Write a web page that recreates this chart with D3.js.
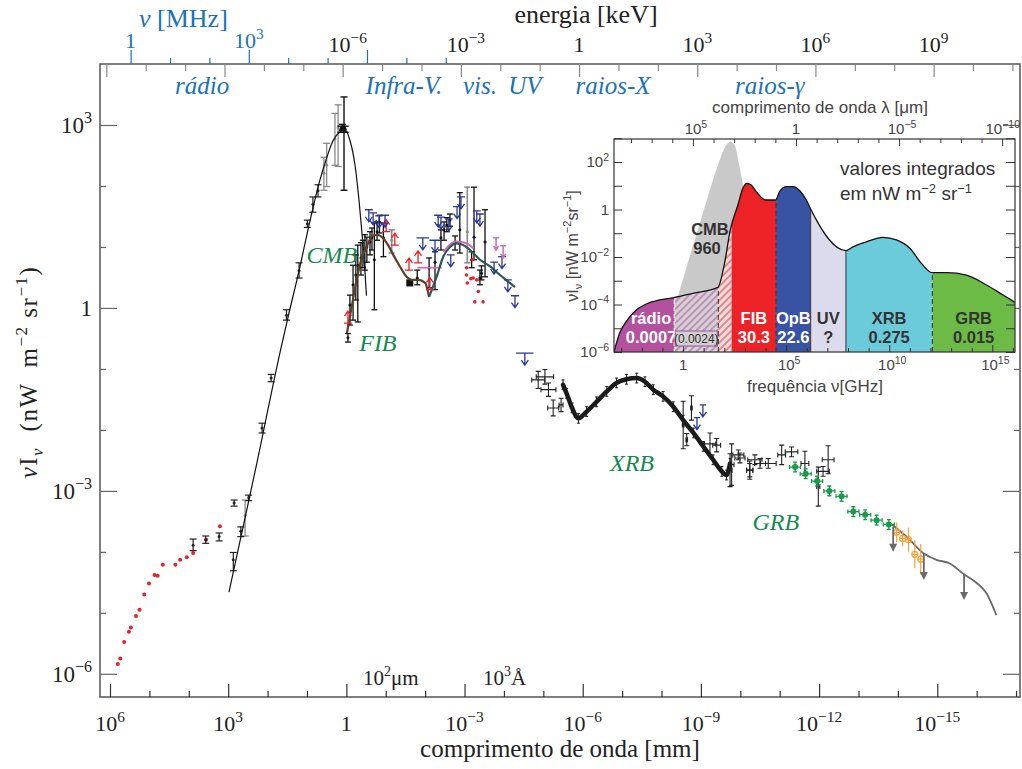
<!DOCTYPE html>
<html>
<head>
<meta charset="utf-8">
<script src="https://cdn.jsdelivr.net/npm/d3@7/dist/d3.min.js"></script>
<style>
  html, body { margin: 0; padding: 0; background: #fff; }
  svg text { white-space: pre; }
</style>
</head>
<body>
<svg id="chart" width="1022" height="769"></svg>
<script>
// ===== Data =====
// Main panel: pairs are [log10 wavelength (mm), log10 νIν (nW m^-2 sr^-1)]

// radio sky background measurements (red dots)
const radioDots = [[5.80,-5.84],[5.74,-5.75],[5.64,-5.48],[5.52,-5.31],[5.47,-5.24],[5.34,-5.05],
  [5.25,-4.95],[5.13,-4.70],[5.01,-4.52],[4.87,-4.38],[4.79,-4.39],[4.66,-4.21],[4.34,-4.21],
  [4.22,-4.13],[4.05,-4.09],[3.89,-4.02],[3.56,-3.80],[3.21,-3.58]];

// radio / microwave measurements with error bars: [logλ, logI, logLow, logHigh]
const radioBars = [[3.89,-3.89,-3.98,-3.79],[3.57,-3.80,-3.86,-3.74],[3.23,-3.75,-3.82,-3.69],
  [2.85,-3.20,-3.25,-3.15],[2.87,-4.13,-4.31,-4.01],[2.68,-3.66,-3.75,-3.59],[2.48,-3.11,-3.16,-3.07],
  [2.14,-1.97,-2.05,-1.89],[1.91,-1.15,-1.21,-1.09],[1.52,-0.12,-0.20,-0.03],[1.20,0.61,0.49,0.74],
  [0.99,1.38,1.32,1.44],[0.85,1.70,1.57,1.82],[0.72,1.92,1.82,2.02]];
const radioBarsGrey = [[2.57,-3.40,-3.74,-3.15],[0.57,2.21,1.93,2.47],[0.50,2.34,1.99,2.70],
  [0.29,2.77,2.34,3.19],[0.21,2.95,2.32,3.33]];
const cmbPeakBars = [[0.06,2.95,1.93,3.46],[0.14,2.93,2.88,2.98],[0.10,2.96,2.91,3.01],[0.03,2.93,2.88,2.98]];

// CMB spectrum
const cmbCurve = [[2.98,-4.66],[2.32,-2.69],[1.66,-0.66],[1.48,-0.15],[1.18,0.67],[0.975,1.28],
  [0.67,2.10],[0.49,2.48],[0.34,2.74],[0.16,2.89],[0.036,2.92],[-0.09,2.75],[-0.22,2.34],
  [-0.32,1.77],[-0.40,1.20],[-0.47,0.62],[-0.51,0.20]];

// cosmic infrared background model
const fibCurve = [[-0.015,-0.41],[-0.135,0.02],[-0.26,0.46],[-0.39,0.82],[-0.515,1.00],[-0.64,1.17],
  [-0.77,1.20],[-0.94,1.14],[-1.06,1.03],[-1.19,0.87],[-1.36,0.68],[-1.53,0.51],[-1.66,0.46],
  [-1.83,0.46],[-2.00,0.41],[-2.10,0.18]];
// optical background model
const optCurve = [[-2.10,0.18],[-2.29,0.51],[-2.46,0.84],[-2.63,1.00],[-2.80,1.06],[-2.97,1.03],
  [-3.14,0.95],[-3.39,0.79],[-3.65,0.68],[-3.90,0.54],[-4.15,0.41],[-4.28,0.34]];
const optCurveAlt = [[-2.46,0.92],[-2.63,1.04],[-2.80,1.09],[-3.05,1.06],[-3.22,0.98]];
const optStep = [[-1.80,0.66],[-2.42,0.66]];

// infrared / optical measurements with error bars
const irBars = [[-0.04,-0.49,-0.56,-0.42],[-0.09,0.05,-0.28,0.21],[-0.17,0.38,-0.20,0.70],
  [-0.24,0.54,0.13,0.87],[-0.29,0.70,-0.23,1.03],[-0.37,0.82,0.54,1.07],[-0.42,0.87,0.66,1.11],
  [-0.47,0.95,0.62,1.20],[-0.52,1.00,0.75,1.16],[-0.60,1.08,0.87,1.25],[-0.65,1.15,0.95,1.31],
  [-0.71,0.79,-0.03,1.39],[-0.78,1.25,1.11,1.41],[-0.84,1.41,1.23,1.52],[-0.94,1.15,0.84,1.39],
  [-1.80,0.49,0.38,0.62],[-2.10,0.66,0.33,0.82],[-2.25,0.75,0.30,0.92],[-2.40,1.15,0.95,1.28],
  [-2.48,1.28,1.11,1.41],[-2.55,1.36,1.25,1.48],[-2.63,1.44,1.34,1.54],[-2.76,1.07,0.95,1.18],
  [-2.88,1.28,0.90,1.89],[-3.24,1.16,0.79,1.98],[-3.52,1.08,0.51,1.61],[-3.18,0.79,0.66,0.92],
  [-3.43,0.57,0.46,0.69],[-3.39,0.49,0.38,0.62]];
const irBarsGrey = [[-1.15,1.11,0.90,1.28],[-3.07,1.25,0.74,1.98]];
const irSquares = [[-1.61,0.41]];

// lower limits (red, arrow up): [logλ, logI]
const lowerLimits = [[-0.04,-0.25],[-1.01,1.25],[-1.23,1.03],[-1.59,0.62],[-1.82,0.74],[-2.12,0.30]];
// upper limits (blue, arrow down): [logλ, logI, half-width in logλ]
const upperLimits = [[-0.57,1.61,0.10],[-0.68,1.56,0.10],[-0.83,1.51,0.10],[-0.98,1.52,0.10],
  [-1.94,1.15,0.16],[-2.25,1.11,0.14],[-2.33,1.52,0.10],[-2.40,1.49,0.10],[-2.60,1.46,0.10],
  [-2.81,1.66,0.10],[-2.91,1.82,0.10],[-3.31,1.59,0.10],[-3.39,1.54,0.10],[-2.65,0.87,0.10],
  [-3.75,0.75,0.10],[-3.95,0.84,0.10],[-4.10,0.46,0.10],[-4.28,0.20,0.10],[-4.53,-0.74,0.22],
  [-9.05,-1.59,0.08],[-8.90,-1.80,0.08]];
// upper limits (pink): [logλ, logTop, logBottom]
const pinkLimits = [[-3.80,1.15,0.95],[-3.98,1.02,0.82]];
// optical galaxy counts (red dots)
const optDots = [[-3.05,0.66],[-3.05,0.54],[-3.22,0.49],[-3.31,0.46],[-3.07,0.41],[-3.35,0.27],
  [-3.26,0.10],[-3.47,0.10],[-3.21,0.79],[-3.16,0.48]];

// X-ray background
const xrbBand = [[-5.50,-1.26],[-5.59,-1.40],[-5.73,-1.64],[-5.89,-1.81],[-6.10,-1.70],[-6.35,-1.54],
  [-6.61,-1.37],[-6.86,-1.23],[-7.11,-1.17],[-7.37,-1.15],[-7.58,-1.21],[-7.79,-1.34],[-8.04,-1.45],
  [-8.30,-1.62],[-8.55,-1.84],[-8.81,-2.05],[-9.06,-2.27],[-9.31,-2.49],[-9.53,-2.68],[-9.65,-2.74],
  [-9.74,-2.55]];
// error crosses: [logλ, logI, ±logλ, ±logI]
const xrbCrosses = [[-4.87,-1.18,0.165,0.14],[-5.04,-1.13,0.22,0.12],[-5.13,-1.34,0.19,0.11],
  [-5.25,-1.64,0.14,0.13],[-5.45,-1.59,0.05,0.11],[-8.55,-1.92,0.02,0.39],[-8.64,-2.16,0.02,0.10],
  [-8.76,-1.64,0.02,0.20],[-9.23,-2.23,0.14,0.18],[-9.40,-2.25,0.10,0.11],[-9.74,-2.66,0.05,0.27],
  [-9.95,-2.41,0.14,0.08],[-10.24,-2.66,0.08,0.11],[-10.37,-2.49,0.18,0.08]];
// gamma-ray background
const grbCrosses = [[-9.78,-2.57,0.06,0.34],[-9.99,-2.46,0.13,0.08],[-10.24,-2.66,0.08,0.15],
  [-10.50,-2.55,0.14,0.08],[-10.71,-2.55,0.20,0.08],[-11.05,-2.41,0.10,0.16],[-11.30,-2.36,0.16,0.08],
  [-11.64,-2.55,0.10,0.20],[-11.98,-2.93,0.04,0.32],[-12.23,-2.49,0.15,0.23],[-12.10,-2.68,0.16,0.08]];
const grbGreen = [[-11.39,-2.61],[-11.66,-2.72],[-11.95,-2.84],[-12.26,-3.00],[-12.57,-3.09],
  [-12.87,-3.34],[-13.17,-3.39],[-13.46,-3.48],[-13.77,-3.55]];
const grbOrange = [[-13.97,-3.68,0.16],[-14.12,-3.78,0.13],[-14.27,-3.80,0.20],[-14.43,-4.04,0.23],[-14.58,-4.12,0.25]];
const grbModel = [[-13.80,-3.53],[-14.22,-3.75],[-14.64,-4.02],[-14.98,-4.13],[-15.32,-4.19],
  [-15.66,-4.36],[-16.00,-4.51],[-16.25,-4.68],[-16.50,-5.04]];
// upper limits (grey): [logλ, logTop, logBottom]
const grbLimits = [[-13.88,-3.59,-4.00],[-14.66,-4.02,-4.46],[-15.68,-4.36,-4.79]];

// axis ticks (exponents)
const wlTickExp = d3.range(-17, 7);
const wlLabelExp = [6, 3, 0, -3, -6, -9, -12, -15];
const energyTickExp = d3.range(-12, 12);
const energyLabelExp = [-6, -3, 0, 3, 6, 9];
const mhzTickExp = d3.range(0, 9);
const mhzLabelExp = [0, 3];
const yTickExp = d3.range(-6, 4);
const yLabelExp = [3, 0, -3, -6];
const bands = ['rádio', 'Infra-V.', 'vis.', 'UV', 'raios-X', 'raios-γ'];
const bandAt = [3.66, -1.46, -3.39, -4.53, -6.77, -10.75];  // logλ of band name centres
const components = ['CMB', 'FIB', 'XRB', 'GRB'];
const componentAt = [[0.37, 0.74], [-0.80, -0.70], [-7.25, -2.67], [-10.90, -3.64]];

// Inset: pairs are [log10 ν (GHz), log10 νIν]
const insetEnvelope = [[-3.35,-6.0],[-3.08,-5.21],[-2.76,-4.72],[-2.27,-4.23],[-1.79,-3.98],[-1.14,-3.81],
  [-0.45,-3.71],[0.48,-3.53],[1.69,-3.28],[2.01,-2.27],[2.29,-0.86],[2.66,0.19],[2.90,0.89],[3.10,1.10],
  [3.31,1.03],[3.55,0.75],[4.00,0.40],[4.49,0.40],[4.68,0.75],[5.01,0.96],[5.33,0.96],[5.66,0.79],
  [5.98,0.40],[6.17,0.05],[7.89,-1.73],[8.24,-1.57],[8.89,-1.36],[9.70,-1.17],[10.35,-1.28],
  [11.00,-1.63],[11.56,-2.27],[12.08,-2.66],[12.78,-2.66],[13.75,-2.76],[14.72,-3.18],[15.52,-3.60],[16.10,-3.91]];
const insetCMB = [[-0.90,-6.0],[-0.56,-4.65],[-0.25,-3.67],[0.32,-1.99],[0.96,-0.16],[1.61,1.66],
  [2.01,2.58],[2.29,2.85],[2.50,2.72],[2.74,1.80],[2.99,0.61],[3.33,-1.28],[3.62,-3.39],[3.81,-6.0]];
const insetEdges = [-3.35, -0.43, 1.71, 2.36, 4.51, 6.19, 7.90, 12.09, 16.10];
const insetNames = ['rádio', '', '', 'FIB', 'OpB', 'UV', 'XRB', 'GRB'];
const insetValues = ['0.0007', '', '', '30.3', '22.6', '?', '0.275', '0.015'];
const insetHatchedValue = '(0.0024)';
const insetCMBValue = '960';

// ===== Styles =====
const serif = "'Liberation Serif','DejaVu Serif',serif";
const sans = "'Liberation Sans','Noto Sans',sans-serif";
const BLUE = '#1b72b8', GREEN = '#13894f';
const bandFill = ['#b3519f', 'url(#hatchP)', 'url(#hatchR)', '#ec2227', '#3953a4', '#dcdbed', '#6ccbdb', '#6bbb46'];
const bandText = ['#fff', '#333', '#333', '#fff', '#fff', '#333', '#333', '#333'];

// ===== Scales =====
const P = v => Math.pow(10, v);
const M = { l: 100, r: 1020, t: 64, b: 697 };
const x = d3.scaleLog().domain([P(6.254), P(-17.1)]).range([M.l, M.r]);
const y = d3.scaleLog().domain([P(-6.38), P(4)]).range([M.b, M.t]);
const X = v => x(P(v)), Y = v => y(P(v));
const HC_KEV_MM = 1.23984e-6, C_MM_MHZ = 2.99792e5;
const xE = d3.scaleLog().domain([HC_KEV_MM / P(6.254), HC_KEV_MM / P(-17.1)]).range([M.l, M.r]);
const xF = d3.scaleLog().domain([C_MM_MHZ / P(6.254), C_MM_MHZ / P(-17.1)]).range([M.l, M.r]);

const svg = d3.select('#chart');
const defs = svg.append('defs');

function powLabel(parent, px, py, e, o) {
  const t = parent.append('text').attr('x', px).attr('y', py)
    .attr('text-anchor', o.anchor || 'middle').attr('font-family', o.font)
    .attr('font-size', o.size).attr('fill', o.color || '#222');
  if (e === 0) { t.text('1'); return t; }
  t.append('tspan').text('10');
  t.append('tspan').attr('dy', -o.size * 0.42).attr('font-size', o.size * 0.7)
    .text(e < 0 ? '\u2212' + (-e) : String(e));
  return t;
}
function tickAxis(axisFn, scale, vals, size, color, transform, width) {
  const g = svg.append('g').attr('transform', transform)
    .call(axisFn(scale).tickValues(vals).tickSize(size).tickFormat(''));
  g.select('.domain').remove();
  g.selectAll('.tick line').attr('stroke', color).attr('stroke-width', width || 1.2);
  return g;
}

// ===== Main axes =====
svg.append('rect').attr('x', M.l).attr('y', M.t).attr('width', M.r - M.l).attr('height', M.b - M.t)
  .attr('fill', 'none').attr('stroke', '#555').attr('stroke-width', 1.5);

// wavelength (bottom)
tickAxis(d3.axisBottom, x, wlTickExp.filter(k => k % 3 !== 0).map(P), -6, '#333', `translate(0,${M.b})`);
tickAxis(d3.axisBottom, x, wlTickExp.filter(k => k % 3 === 0).map(P), -13, '#333', `translate(0,${M.b})`);
wlLabelExp.forEach(e => powLabel(svg, X(e), 731, e, { font: serif, size: 22 }));
svg.append('text').attr('x', 560).attr('y', 757).attr('text-anchor', 'middle')
  .attr('font-family', serif).attr('font-size', 25).attr('fill', '#222').text('comprimento de onda [mm]');
// marker labels for 100 μm and 1000 Å
const mk1 = svg.append('text').attr('x', 363).attr('y', 685).attr('font-family', serif).attr('font-size', 21).attr('fill', '#222');
mk1.append('tspan').text('10'); mk1.append('tspan').attr('dy', -9).attr('font-size', 14).text('2');
mk1.append('tspan').attr('dy', 9).text('μm');
const mk2 = svg.append('text').attr('x', 483).attr('y', 685).attr('font-family', serif).attr('font-size', 21).attr('fill', '#222');
mk2.append('tspan').text('10'); mk2.append('tspan').attr('dy', -9).attr('font-size', 14).text('3');
mk2.append('tspan').attr('dy', 9).text('Å');

// energy (top)
tickAxis(d3.axisTop, xE, energyTickExp.filter(k => k % 3 !== 0).map(P), -7, '#888', `translate(0,${M.t})`);
tickAxis(d3.axisTop, xE, energyTickExp.filter(k => k % 3 === 0).map(P), -13, '#888', `translate(0,${M.t})`);
energyLabelExp.forEach(e => powLabel(svg, xE(P(e)) + (e < 0 ? 5 : 0), 52, e, { font: serif, size: 22 }));
svg.append('text').attr('x', 586).attr('y', 23).attr('text-anchor', 'middle')
  .attr('font-family', serif).attr('font-size', 26).attr('fill', '#222').text('energia [keV]');

// frequency in MHz (top, blue)
tickAxis(d3.axisTop, xF, mhzTickExp.filter(k => k % 3 !== 0).map(P), 6, BLUE, `translate(0,${M.t})`);
tickAxis(d3.axisTop, xF, mhzTickExp.filter(k => k % 3 === 0).map(P), 14, BLUE, `translate(0,${M.t})`);
mhzLabelExp.forEach(e => powLabel(svg, xF(P(e)), 48, e, { font: serif, size: 22, color: BLUE }));
const nuT = svg.append('text').attr('x', 139).attr('y', 27).attr('font-family', serif).attr('font-size', 26).attr('fill', BLUE);
nuT.append('tspan').attr('font-style', 'italic').text('ν');
nuT.append('tspan').text(' [MHz]');

// band names
bands.forEach((b, i) => svg.append('text').attr('x', X(bandAt[i])).attr('y', 94).attr('text-anchor', 'middle')
  .attr('font-family', serif).attr('font-style', 'italic').attr('font-size', 25).attr('fill', BLUE).text(b));

// intensity (left / right)
tickAxis(d3.axisLeft, y, yTickExp.filter(k => k % 3 !== 0).map(P), -6, '#666', `translate(${M.l},0)`);
tickAxis(d3.axisLeft, y, yTickExp.filter(k => k % 3 === 0).map(P), -17, '#666', `translate(${M.l},0)`);
tickAxis(d3.axisRight, y, yTickExp.filter(k => k % 3 !== 0).map(P), -6, '#666', `translate(${M.r},0)`);
tickAxis(d3.axisRight, y, yTickExp.filter(k => k % 3 === 0).map(P), -17, '#666', `translate(${M.r},0)`);
yLabelExp.forEach(e => powLabel(svg, 92, Y(e) + 8, e, { font: serif, size: 23, anchor: 'end' }));
const yt = svg.append('text').attr('transform', 'translate(37,372) rotate(-90)').attr('text-anchor', 'middle')
  .attr('font-family', serif).attr('font-size', 25).attr('letter-spacing', 1.5).attr('fill', '#222');
yt.append('tspan').attr('font-style', 'italic').text('ν');
yt.append('tspan').text('I');
yt.append('tspan').attr('dy', 6).attr('font-size', 17).attr('font-style', 'italic').text('ν');
yt.append('tspan').attr('dy', -6).text('  (nW  m');
yt.append('tspan').attr('dy', -10).attr('font-size', 17).text('\u22122');
yt.append('tspan').attr('dy', 10).text(' sr');
yt.append('tspan').attr('dy', -10).attr('font-size', 17).text('\u22121');
yt.append('tspan').attr('dy', 10).text(')');

// ===== Main data layers =====
const plot = svg.append('g');
const line = d3.line().x(d => X(d[0])).y(d => Y(d[1]));
const smooth = d3.line().x(d => X(d[0])).y(d => Y(d[1])).curve(d3.curveMonotoneX);

function vbar(g, d, color, cap, w) {
  const px = X(d[0]);
  g.append('line').attr('x1', px).attr('x2', px).attr('y1', Y(d[2])).attr('y2', Y(d[3]))
    .attr('stroke', color).attr('stroke-width', w);
  [d[2], d[3]].forEach(v => g.append('line').attr('x1', px - cap).attr('x2', px + cap)
    .attr('y1', Y(v)).attr('y2', Y(v)).attr('stroke', color).attr('stroke-width', w));
  g.append('circle').attr('cx', px).attr('cy', Y(d[1])).attr('r', 1.5).attr('fill', color);
}
function cross(g, d, color, cap, w) {
  const px = X(d[0]), py = Y(d[1]);
  const x0 = X(d[0] + d[2]), x1 = X(d[0] - d[2]), y0 = Y(d[1] + d[3]), y1 = Y(d[1] - d[3]);
  g.append('path').attr('d', `M${x0},${py}H${x1}M${px},${y0}V${y1}M${x0},${py - cap}V${py + cap}M${x1},${py - cap}V${py + cap}M${px - cap},${y0}H${px + cap}M${px - cap},${y1}H${px + cap}`)
    .attr('stroke', color).attr('stroke-width', w).attr('fill', 'none');
}

// radio
radioDots.forEach(d => plot.append('circle').attr('cx', X(d[0])).attr('cy', Y(d[1])).attr('r', 2).attr('fill', '#e8202a'));
radioBarsGrey.forEach(d => vbar(plot, d, '#8a8a8a', 3.5, 1.3));
radioBars.forEach(d => vbar(plot, d, '#222', 3.5, 1.2));
cmbPeakBars.forEach(d => vbar(plot, d, '#111', 3.5, 1.4));

// CMB curve
plot.append('path').attr('d', smooth(cmbCurve)).attr('fill', 'none').attr('stroke', '#111').attr('stroke-width', 1.2);

// infrared / optical data
irBarsGrey.forEach(d => vbar(plot, d, '#8a8a8a', 3, 1.6));
irBars.forEach(d => vbar(plot, d, '#111', 3, 1.3));
irSquares.forEach(d => plot.append('rect').attr('x', X(d[0]) - 3.5).attr('y', Y(d[1]) - 3.5).attr('width', 7).attr('height', 7).attr('fill', '#111'));
optDots.forEach(d => plot.append('circle').attr('cx', X(d[0])).attr('cy', Y(d[1])).attr('r', 1.8).attr('fill', '#e8202a'));

plot.append('path').attr('d', line(optStep)).attr('fill', 'none').attr('stroke', '#d06fb6').attr('stroke-width', 1.8);
plot.append('path').attr('d', smooth(optCurveAlt)).attr('fill', 'none').attr('stroke', '#d06fb6').attr('stroke-width', 2);
plot.append('path').attr('d', smooth(fibCurve)).attr('fill', 'none').attr('stroke', '#5a4128').attr('stroke-width', 2.2);
plot.append('path').attr('d', smooth(optCurve)).attr('fill', 'none').attr('stroke', '#2f5657').attr('stroke-width', 2.2);

lowerLimits.forEach(d => {
  const px = X(d[0]), py = Y(d[1]);
  plot.append('path').attr('d', `M${px - 4},${py}H${px + 4}M${px},${py}V${py - 12}M${px - 3.5},${py - 7}L${px},${py - 12}L${px + 3.5},${py - 7}`)
    .attr('stroke', '#e8202a').attr('stroke-width', 1.3).attr('fill', 'none');
});
upperLimits.forEach(d => {
  const px = X(d[0]), py = Y(d[1]), x0 = X(d[0] + d[2]), x1 = X(d[0] - d[2]);
  plot.append('path').attr('d', `M${x0},${py}H${x1}M${px},${py}V${py + 12}M${px - 3.5},${py + 7}L${px},${py + 12}L${px + 3.5},${py + 7}`)
    .attr('stroke', '#2b3994').attr('stroke-width', 1.3).attr('fill', 'none');
});
pinkLimits.forEach(d => {
  const px = X(d[0]), y0 = Y(d[1]), y1 = Y(d[2]);
  plot.append('path').attr('d', `M${px - 3},${y0}H${px + 3}M${px},${y0}V${y1}M${px - 2.5},${y1 - 4}L${px},${y1}L${px + 2.5},${y1 - 4}`)
    .attr('stroke', '#d06fb6').attr('stroke-width', 1.5).attr('fill', 'none');
});

// X-ray background
plot.append('path').attr('d', smooth(xrbBand)).attr('fill', 'none').attr('stroke', '#1b1b1b')
  .attr('stroke-width', 4.5).attr('stroke-linecap', 'round').attr('stroke-linejoin', 'round');
xrbBand.forEach(d => vbar(plot, [d[0], d[1], d[1] - 0.08, d[1] + 0.08], '#1b1b1b', 1.5, 1));
xrbCrosses.forEach(d => cross(plot, d, '#222', 2.5, 1.1));

// gamma-ray background
grbCrosses.forEach(d => cross(plot, d, '#222', 2.5, 1.1));
plot.append('path').attr('d', smooth(grbModel)).attr('fill', 'none').attr('stroke', '#6a6a6a').attr('stroke-width', 1.8);
grbGreen.forEach(d => {
  cross(plot, [d[0], d[1], 0.14, 0.08], '#1b9a4a', 2, 1.3);
  plot.append('circle').attr('cx', X(d[0])).attr('cy', Y(d[1])).attr('r', 3).attr('fill', '#1b9a4a');
});
grbOrange.forEach(d => {
  cross(plot, [d[0], d[1], 0.07, d[2]], '#f5a23a', 0, 1.2);
  plot.append('circle').attr('cx', X(d[0])).attr('cy', Y(d[1])).attr('r', 3).attr('fill', 'none')
    .attr('stroke', '#f5a23a').attr('stroke-width', 1.2);
});
grbLimits.forEach(d => {
  const px = X(d[0]), y0 = Y(d[1]), y1 = Y(d[2]);
  plot.append('line').attr('x1', px).attr('x2', px).attr('y1', y0).attr('y2', y1 - 6).attr('stroke', '#6a6a6a').attr('stroke-width', 1.8);
  plot.append('path').attr('d', `M${px - 4},${y1 - 8}L${px + 4},${y1 - 8}L${px},${y1}Z`).attr('fill', '#6a6a6a');
});

// component names
components.forEach((c, i) =>
  svg.append('text').attr('x', X(componentAt[i][0])).attr('y', Y(componentAt[i][1])).attr('text-anchor', 'middle')
    .attr('font-family', serif).attr('font-style', 'italic').attr('font-size', 24).attr('fill', GREEN).text(c));

// ===== Inset =====
const I = { l: 614, r: 1015, t: 139, b: 352 };
const xi = d3.scaleLog().domain([P(-3.35), P(16.1)]).range([I.l, I.r]);
const yi = d3.scaleLog().domain([P(-6), P(3)]).range([I.b, I.t - 0.75]);
const C_UM_GHZ = 2.99792e5;
const xl = d3.scaleLog().domain([C_UM_GHZ / P(-3.35), C_UM_GHZ / P(16.1)]).range([I.l, I.r]);
const XI = v => xi(P(v)), YI = v => yi(P(v));

const hp = defs.append('pattern').attr('id', 'hatchP').attr('patternUnits', 'userSpaceOnUse')
  .attr('width', 5).attr('height', 5).attr('patternTransform', 'rotate(45)');
hp.append('rect').attr('width', 5).attr('height', 5).attr('fill', '#d3d3d3');
hp.append('line').attr('x1', 1).attr('x2', 1).attr('y1', 0).attr('y2', 5).attr('stroke', '#b559a6').attr('stroke-width', 1.1);
const hr = defs.append('pattern').attr('id', 'hatchR').attr('patternUnits', 'userSpaceOnUse')
  .attr('width', 5).attr('height', 5).attr('patternTransform', 'rotate(45)');
hr.append('rect').attr('width', 5).attr('height', 5).attr('fill', '#ecdede');
hr.append('line').attr('x1', 1).attr('x2', 1).attr('y1', 0).attr('y2', 5).attr('stroke', '#ea3a3e').attr('stroke-width', 1.1);

const inset = svg.append('g');
inset.append('rect').attr('x', I.l).attr('y', I.t).attr('width', I.r - I.l).attr('height', I.b - I.t).attr('fill', '#fff');

const area = d3.area().x(d => XI(d[0])).y0(I.b).y1(d => YI(d[1])).curve(d3.curveMonotoneX);
const iline = d3.line().x(d => XI(d[0])).y(d => YI(d[1])).curve(d3.curveMonotoneX);
defs.append('clipPath').attr('id', 'envClip').append('path').attr('d', area(insetEnvelope));
defs.append('clipPath').attr('id', 'frameClip').append('rect').attr('x', I.l).attr('y', I.t).attr('width', I.r - I.l).attr('height', I.b - I.t);

const ig = inset.append('g').attr('clip-path', 'url(#frameClip)');
ig.append('path').attr('d', area(insetCMB)).attr('fill', '#c9c9c9');
const bandG = ig.append('g').attr('clip-path', 'url(#envClip)');
insetEdges.slice(0, -1).forEach((e, i) => {
  bandG.append('rect').attr('x', XI(e)).attr('y', I.t).attr('width', XI(insetEdges[i + 1]) - XI(e))
    .attr('height', I.b - I.t).attr('fill', bandFill[i]);
});
[2, 4, 7].forEach(i => bandG.append('line').attr('x1', XI(insetEdges[i])).attr('x2', XI(insetEdges[i]))
  .attr('y1', I.t).attr('y2', I.b).attr('stroke', '#333').attr('stroke-width', 1).attr('stroke-dasharray', '5,3'));
[5, 6].forEach(i => bandG.append('line').attr('x1', XI(insetEdges[i])).attr('x2', XI(insetEdges[i]))
  .attr('y1', I.t).attr('y2', I.b).attr('stroke', '#333').attr('stroke-width', 1));
bandG.append('line').attr('x1', XI(insetEdges[1])).attr('x2', XI(insetEdges[1])).attr('y1', I.t).attr('y2', I.b)
  .attr('stroke', '#fff').attr('stroke-width', 1).attr('stroke-dasharray', '4,3');
ig.append('path').attr('d', iline(insetEnvelope)).attr('fill', 'none').attr('stroke', '#111').attr('stroke-width', 1.3);

inset.append('rect').attr('x', I.l).attr('y', I.t).attr('width', I.r - I.l).attr('height', I.b - I.t)
  .attr('fill', 'none').attr('stroke', '#333').attr('stroke-width', 1.2);

// inset ticks
function itick(axisFn, scale, vals, size, transform) {
  const g = inset.append('g').attr('transform', transform)
    .call(axisFn(scale).tickValues(vals).tickSize(size).tickFormat(''));
  g.select('.domain').remove();
  g.selectAll('.tick line').attr('stroke', '#333').attr('stroke-width', 1);
}
const iyTicks = d3.range(-6, 4).map(P);
itick(d3.axisLeft, yi, iyTicks, -8, `translate(${I.l},0)`);
itick(d3.axisRight, yi, iyTicks, -9, `translate(${I.r},0)`);
const ixTicks = d3.range(-3, 17);
itick(d3.axisBottom, xi, ixTicks.filter(k => k % 5 !== 0).map(P), -4, `translate(0,${I.b})`);
itick(d3.axisBottom, xi, ixTicks.filter(k => k % 5 === 0).map(P), -7, `translate(0,${I.b})`);
const ilTicks = d3.range(-10, 9);
itick(d3.axisTop, xl, ilTicks.filter(k => k % 5 !== 0).map(P), -4, `translate(0,${I.t})`);
itick(d3.axisTop, xl, ilTicks.filter(k => k % 5 === 0).map(P), -7, `translate(0,${I.t})`);

[2, 0, -2, -4, -6].forEach(e => powLabel(inset, 609, YI(e) + 5, e, { font: sans, size: 15, anchor: 'end', color: '#444' }));
[0, 5, 10, 15].forEach(e => powLabel(inset, xi(P(e)) + (e ? 3 : 0), 370, e, { font: sans, size: 15, color: '#444' }));
[5, 0, -5].forEach(e => powLabel(inset, xl(P(e)) + (e ? 3 : 0), 134, e, { font: sans, size: 15, color: '#444' }));
powLabel(inset, 1020, 134, -10, { font: sans, size: 15, color: '#444', anchor: 'end' });
inset.append('text').attr('x', 820).attr('y', 113).attr('text-anchor', 'middle').attr('font-family', sans)
  .attr('font-size', 17).attr('fill', '#444').text('comprimento de onda λ [μm]');
inset.append('text').attr('x', 815).attr('y', 392).attr('text-anchor', 'middle').attr('font-family', sans)
  .attr('font-size', 17).attr('fill', '#444').text('frequência ν[GHz]');
const iyt = inset.append('text').attr('transform', 'translate(578,246) rotate(-90)').attr('text-anchor', 'middle')
  .attr('font-family', sans).attr('font-size', 16).attr('fill', '#444');
iyt.append('tspan').text('νI');
iyt.append('tspan').attr('dy', 4).attr('font-size', 11).text('ν');
iyt.append('tspan').attr('dy', -4).text(' [nW m');
iyt.append('tspan').attr('dy', -7).attr('font-size', 11).text('\u22122');
iyt.append('tspan').attr('dy', 7).text('sr');
iyt.append('tspan').attr('dy', -7).attr('font-size', 11).text('\u22121');
iyt.append('tspan').attr('dy', 7).text(']');

const note1 = inset.append('text').attr('x', 840).attr('y', 175).attr('font-family', sans).attr('font-size', 19).attr('fill', '#333');
note1.text('valores integrados');
const note2 = inset.append('text').attr('x', 840).attr('y', 200).attr('font-family', sans).attr('font-size', 19).attr('fill', '#333');
note2.append('tspan').text('em nW m');
note2.append('tspan').attr('dy', -7).attr('font-size', 13).text('\u22122');
note2.append('tspan').attr('dy', 7).text(' sr');
note2.append('tspan').attr('dy', -7).attr('font-size', 13).text('\u22121');

// band labels
insetNames.forEach((n, i) => {
  if (!n) return;
  const cx = (XI(insetEdges[i]) + XI(insetEdges[i + 1])) / 2 + (i === 0 ? 7 : 0);
  inset.append('text').attr('x', cx).attr('y', 324).attr('text-anchor', 'middle').attr('font-family', sans)
    .attr('font-weight', 'bold').attr('font-size', 16.5).attr('fill', bandText[i]).text(n);
  inset.append('text').attr('x', cx).attr('y', 343).attr('text-anchor', 'middle').attr('font-family', sans)
    .attr('font-weight', 'bold').attr('font-size', 16.5).attr('fill', bandText[i]).text(insetValues[i]);
});
const hx0 = XI(insetEdges[1]), hx1 = XI(insetEdges[2]);
inset.append('rect').attr('x', hx0 + 1).attr('y', 331).attr('width', hx1 - hx0 - 2).attr('height', 15)
  .attr('fill', '#d0d0d0').attr('stroke', '#a0509a').attr('stroke-width', 1);
inset.append('text').attr('x', (hx0 + hx1) / 2).attr('y', 343).attr('text-anchor', 'middle').attr('font-family', sans)
  .attr('font-size', 12).attr('fill', '#333').text(insetHatchedValue);
inset.append('text').attr('x', 710).attr('y', 235).attr('text-anchor', 'middle').attr('font-family', sans)
  .attr('font-weight', 'bold').attr('font-size', 16.5).attr('fill', '#333').text('CMB');
inset.append('text').attr('x', 707).attr('y', 254).attr('text-anchor', 'middle').attr('font-family', sans)
  .attr('font-weight', 'bold').attr('font-size', 16.5).attr('fill', '#333').text(insetCMBValue);
</script>
</body>
</html>
